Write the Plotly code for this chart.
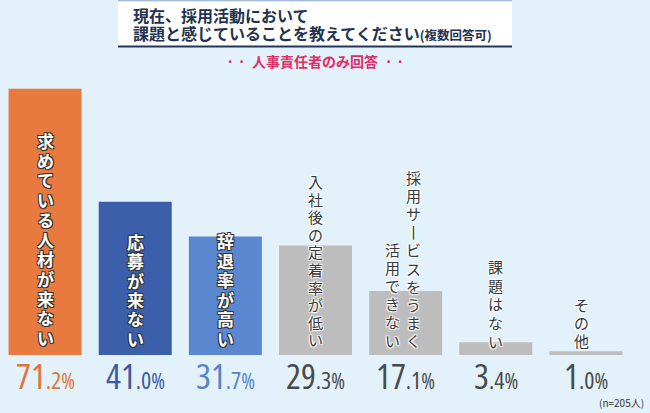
import plotly.graph_objects as go

categories = ["求めている人材が来ない", "応募が来ない", "辞退率が高い", "入社後の定着率が低い",
              "採用サービスをうまく活用できない", "課題はない", "その他"]
values = [71.2, 41.0, 31.7, 29.3, 17.1, 3.4, 1.0]
# vertical label columns (right column first, as in Japanese vertical writing)
label_columns = [["求めている人材が来ない"], ["応募が来ない"], ["辞退率が高い"], ["入社後の定着率が低い"],
                 ["採用サ丨ビスをうまく", "活用できない"], ["課題はない"], ["その他"]]
bar_colors = ["#E8793F", "#3B5FAA", "#5A87CF", "#BDBDBD", "#BDBDBD", "#BDBDBD", "#BDBDBD"]
value_colors = ["#E0733C", "#3A5CA6", "#5583CA", "#4A4A4A", "#4A4A4A", "#4A4A4A", "#4A4A4A"]
title_line1 = "現在、採用活動において"
title_line2 = "課題と感じていることを教えてください"
title_suffix = "(複数回答可)"
subtitle = "人事責任者のみ回答"
note = "(n=205人)"

W, H = 650, 413
ML, MR, MT, MB = 0, 19, 60, 58
PW, PH = W - ML - MR, H - MT - MB
YMAX = 78.9


def px(x):
    return (x - ML) / PW


def py(y):
    return (H - MB - y) / PH


fig = go.Figure()
fig.add_trace(go.Bar(x=categories, y=values, marker=dict(color=bar_colors, line=dict(width=0)),
                     hoverinfo="skip"))

annotations = []
shapes = []

dark_outline = "1px 1px 0 #333, -1px -1px 0 #333, 1px -1px 0 #333, -1px 1px 0 #333"
light_outline = "1px 1px 1px #fff, -1px -1px 1px #fff, 1px -1px 1px #fff, -1px 1px 1px #fff"
# per bar column layout: (bottom char centre px, pitch px, glyph size, xshift per column)
col_layout = [
    (337, 19.7, 17, [0]),
    (338, 19.3, 17, [0]),
    (338, 19.6, 17, [0]),
    (340, 17.6, 15, [0]),
    (340, 18.1, 15, [8, -13]),
    (341, 18.7, 15, [0]),
    (340, 18.0, 15, [-4]),
]
for i, (cat, cols) in enumerate(zip(categories, label_columns)):
    colored = i < 3
    bottom, pitch, gs, shifts = col_layout[i]
    for col, xs in zip(cols, shifts):
        chars = list(col)
        n = len(chars)
        top = bottom - (n - 1) * pitch
        txt = "<br>".join(f"<span style='font-size:{gs}px'>{ch}</span>" for ch in chars)
        annotations.append(dict(
            x=cat, xref="x", y=py((top + bottom) / 2), yref="paper", xshift=xs,
            yanchor="middle", xanchor="center", align="center",
            text=txt, showarrow=False,
            font=dict(family="Noto Sans CJK JP", size=pitch / 1.3,
                      color="#FFFFFF" if colored else "#383838",
                      weight="bold" if colored else "normal",
                      shadow=dark_outline if colored else light_outline),
        ))

# value labels below bars
for cat, v, c in zip(categories, values, value_colors):
    whole, dec = f"{v:.1f}".split(".")
    txt = (f"<span style='font-stretch:75%'>"
           f"<span style='font-size:35px'>{whole}</span>"
           f"<span style='font-size:24px'>.{dec}</span>"
           f"<span style='font-size:21px'>%</span></span>")
    annotations.append(dict(
        x=cat, xref="x", y=py(375), yref="paper", yanchor="middle", xanchor="center",
        text=txt, showarrow=False,
        font=dict(family="Open Sans", size=30, color=c, weight=500),
    ))

# title box
shapes.append(dict(type="rect", xref="paper", yref="paper", x0=px(118), x1=px(512), y0=py(47), y1=py(0),
                   fillcolor="#FFFFFF", line=dict(width=0), layer="below"))
shapes.append(dict(type="line", xref="paper", yref="paper", x0=px(118), x1=px(512), y0=py(46.5), y1=py(46.5),
                   line=dict(color="#23365A", width=2)))
shapes.append(dict(type="line", xref="paper", yref="paper", x0=px(118), x1=px(512), y0=py(0.8), y1=py(0.8),
                   line=dict(color="#7FA3D0", width=1)))

annotations.append(dict(x=px(131), y=py(15), xref="paper", yref="paper", xanchor="left", yanchor="middle",
                        text=title_line1, showarrow=False,
                        font=dict(family="Noto Sans CJK JP", size=16, color="#22324F", weight="bold")))
annotations.append(dict(x=px(131), y=py(33), xref="paper", yref="paper", xanchor="left", yanchor="middle",
                        text=f"{title_line2}<span style='font-size:12.5px'>{title_suffix}</span>",
                        showarrow=False,
                        font=dict(family="Noto Sans CJK JP", size=16, color="#22324F", weight="bold")))
annotations.append(dict(x=px(315), y=py(61), xref="paper", yref="paper", xanchor="center", yanchor="middle",
                        text=f"· ·  {subtitle}  · ·", showarrow=False,
                        font=dict(family="Noto Sans CJK JP", size=14, color="#DE2F68", weight="bold")))
annotations.append(dict(x=px(646), y=py(402), xref="paper", yref="paper", xanchor="right", yanchor="middle",
                        text=note, showarrow=False,
                        font=dict(family="Noto Sans CJK JP", size=10, color="#333333")))

fig.update_layout(
    width=W, height=H,
    margin=dict(l=ML, r=MR, t=MT, b=MB, pad=0),
    paper_bgcolor="#E3F1FA", plot_bgcolor="rgba(0,0,0,0)",
    bargap=0.19, showlegend=False,
    xaxis=dict(visible=False, range=[-0.5, 6.5]),
    yaxis=dict(visible=False, range=[0, YMAX]),
    annotations=annotations, shapes=shapes,
)

fig.write_html("out.html", config={"displayModeBar": False},
               post_script="document.body.style.margin='0';")
